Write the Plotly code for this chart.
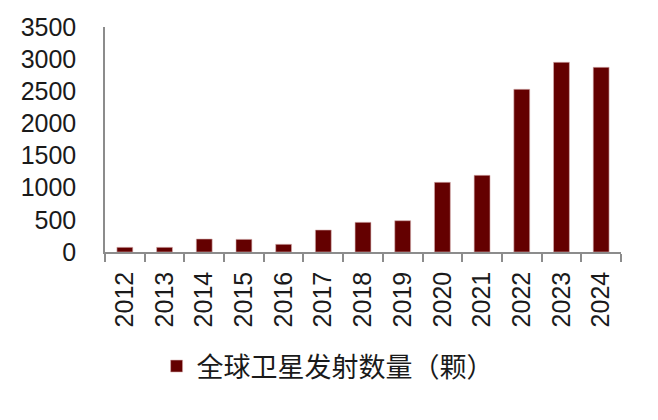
import plotly.graph_objects as go

# 全球卫星发射数量（颗）
years = ['2012', '2013', '2014', '2015', '2016', '2017', '2018',
         '2019', '2020', '2021', '2022', '2023', '2024']
launches = [73, 73, 202, 197, 120, 342, 462, 487, 1084, 1193, 2531, 2951, 2873]
series_name = '全球卫星发射数量（颗）'

bar_color = '#640000'
axis_color = '#8c8c8c'
font_fam = 'Liberation Sans, Arial, Noto Sans CJK SC'

fig = go.Figure()
fig.add_trace(go.Bar(
    x=years, y=launches, name=series_name,
    marker=dict(color=bar_color, line=dict(color='#d9b3b3', width=0.6)),
    showlegend=True,
))

# page body adds 8px margin, so figure is 8px smaller than the window
fig.update_layout(
    width=650, height=412,
    margin=dict(l=97, r=37, t=19, b=168, autoexpand=False),
    paper_bgcolor='white', plot_bgcolor='white',
    bargap=0.6,
    font=dict(family=font_fam, size=25, color='#1a1a1a'),
    legend=dict(
        orientation='h', x=0.10, xanchor='left', y=-0.40, yanchor='top',
        font=dict(family='Noto Sans CJK SC, Liberation Sans', size=27),
        itemwidth=30,
    ),
)

fig.update_xaxes(
    type='category', tickson='boundaries', ticks='outside', ticklen=8,
    tickcolor=axis_color, tickwidth=1.5,
    showline=True, linecolor=axis_color, linewidth=1.5,
    tickangle=-90, showgrid=False, automargin=False,
    ticklabelstandoff=8,
    tickfont=dict(size=25),
)
fig.update_yaxes(
    range=[0, 3500], dtick=500, showgrid=False,
    showline=True, linecolor=axis_color, linewidth=1.5,
    ticks='', ticklabelstandoff=22, automargin=False,
    tickfont=dict(size=25),
)

fig.write_html('out.html')
